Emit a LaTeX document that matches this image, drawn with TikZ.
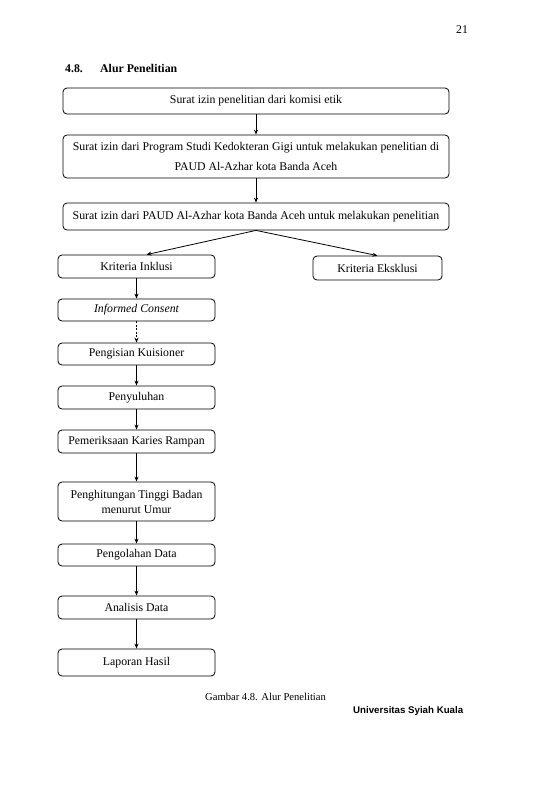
\documentclass[tikz,border=0pt]{standalone}
\usepackage{fontspec}
\setmainfont{Liberation Serif}
\newfontfamily\univfont{Liberation Sans}
\usetikzlibrary{arrows.meta,calc}
\tikzset{
  box/.style={draw, line width=0.8pt, rounded corners=4pt, inner sep=0pt, align=center,
    font=\fontsize{11.8}{20}\selectfont},
  wide/.style={box, minimum width=386pt},
  small/.style={box, minimum width=157pt},
  arr/.style={draw, line width=0.8pt, -{Stealth[length=5pt,width=4pt]}},
  txt/.style={inner sep=0pt, anchor=base west}
}
\begin{document}
\begin{tikzpicture}[x=1pt,y=-1pt]
\useasboundingbox (0,0) rectangle (549,796);
\node[txt, font=\fontsize{11.8}{13}\selectfont] (pg) at (456,33) {21};
\node[txt, font=\fontsize{11.8}{13}\selectfont\bfseries] (h1) at (65,72) {4.8.};
\node[txt, font=\fontsize{11.8}{13}\selectfont\bfseries] (h2) at (100,72) {Alur Penelitian};

\node[wide, minimum height=26pt] (b1) at (256,101) {Surat izin penelitian dari komisi etik};
\node[wide, minimum height=43pt] (b2) at (256,156.5) {Surat izin dari Program Studi Kedokteran Gigi untuk melakukan penelitian di\\PAUD Al-Azhar kota Banda Aceh};
\node[wide, minimum height=27pt] (b3) at (256,216.5) {Surat izin dari PAUD Al-Azhar kota Banda Aceh untuk melakukan penelitian};

\node[small, minimum height=23pt] (ink) at (136.5,266.5) {Kriteria Inklusi};
\node[box, minimum width=129pt, minimum height=24pt] (eks) at (377.5,268) {Kriteria Eksklusi};
\node[small, minimum height=22pt] (ic) at (136.5,310) {\itshape Informed Consent};
\node[small, minimum height=22pt] (kui) at (136.5,354) {Pengisian Kuisioner};
\node[small, minimum height=23pt] (pen) at (136.5,397.5) {Penyuluhan};
\node[small, minimum height=23pt] (kar) at (136.5,441.5) {Pemeriksaan Karies Rampan};
\node[small, minimum height=39pt, font=\fontsize{11.8}{15}\selectfont] (tb) at (136.5,501.5) {Penghitungan Tinggi Badan\\menurut Umur};
\node[small, minimum height=22pt] (olah) at (136.5,555) {Pengolahan Data};
\node[small, minimum height=23pt] (ana) at (136.5,607.5) {Analisis Data};
\node[small, minimum height=27pt] (lap) at (136.5,662.5) {Laporan Hasil};

\draw[arr] (b1) -- (b2);
\draw[arr] (b2) -- (b3);
\draw[arr] (b3.south) -- ($(ink.north)+(10,0)$);
\draw[arr] (b3.south) -- (eks.north);
\draw[arr] (ink) -- (ic);
\draw[arr, dash pattern=on 2pt off 1.5pt] (ic) -- (kui);
\draw[arr] (kui) -- (pen);
\draw[arr] (pen) -- (kar);
\draw[arr] (kar) -- (tb);
\draw[arr] (tb) -- (olah);
\draw[arr] (olah) -- (ana);
\draw[arr] (ana) -- (lap);

\node[txt, font=\fontsize{10.6}{12}\selectfont] (cap) at (205,700) {Gambar 4.8. Alur Penelitian};
\node[txt, font=\fontsize{9.7}{11}\selectfont\univfont\bfseries] (univ) at (353,713) {Universitas Syiah Kuala};
\end{tikzpicture}
\end{document}
